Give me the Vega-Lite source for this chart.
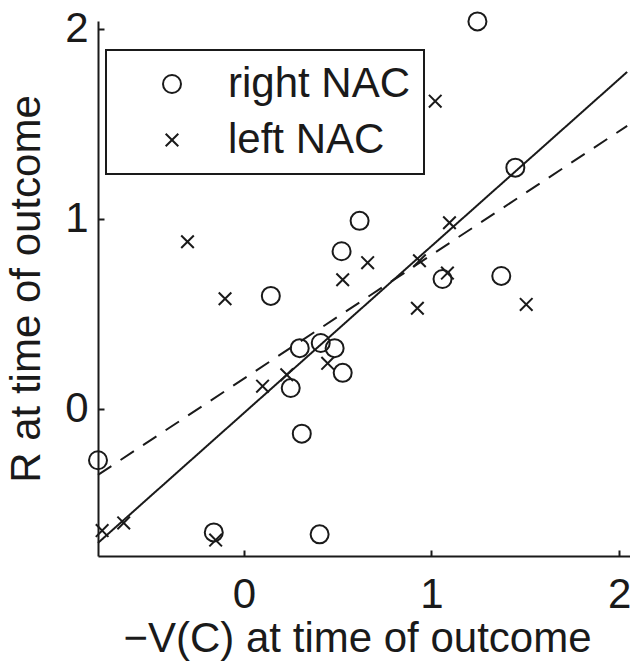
{
  "$schema": "https://vega.github.io/schema/vega-lite/v6.json",
  "width": 532,
  "height": 535,
  "autosize": {"type": "none"},
  "padding": {"left": 98, "top": 21, "right": 0, "bottom": 105},
  "background": "white",
  "config": {
    "view": {"stroke": null},
    "font": "Liberation Sans",
    "legend": {"strokeWidth": 2},
    "axis": {
      "domainColor": "#1a1a1a",
      "domainWidth": 2,
      "tickColor": "#1a1a1a",
      "tickWidth": 2,
      "tickSize": -6,
      "grid": false,
      "labelFont": "Liberation Sans",
      "labelFontSize": 42,
      "labelColor": "#1a1a1a",
      "titleFont": "Liberation Sans",
      "titleFontSize": 42,
      "titleFontWeight": "normal",
      "titleColor": "#1a1a1a"
    }
  },
  "datasets": {
    "points": [
      {"nac": "right NAC", "x": 1.245, "y": 2.04},
      {"nac": "right NAC", "x": 1.447, "y": 1.27},
      {"nac": "right NAC", "x": 0.617, "y": 0.99},
      {"nac": "right NAC", "x": 0.521, "y": 0.83},
      {"nac": "right NAC", "x": 0.144, "y": 0.595},
      {"nac": "right NAC", "x": 1.059, "y": 0.684},
      {"nac": "right NAC", "x": 1.372, "y": 0.70},
      {"nac": "right NAC", "x": 0.298, "y": 0.32},
      {"nac": "right NAC", "x": 0.41, "y": 0.347},
      {"nac": "right NAC", "x": 0.484, "y": 0.32},
      {"nac": "right NAC", "x": 0.527, "y": 0.19},
      {"nac": "right NAC", "x": 0.25, "y": 0.11},
      {"nac": "right NAC", "x": 0.309, "y": -0.13},
      {"nac": "right NAC", "x": -0.777, "y": -0.27},
      {"nac": "right NAC", "x": -0.16, "y": -0.65},
      {"nac": "right NAC", "x": 0.404, "y": -0.66},
      {"nac": "left NAC", "x": 1.02, "y": 1.62},
      {"nac": "left NAC", "x": 1.096, "y": 0.98},
      {"nac": "left NAC", "x": -0.30, "y": 0.88},
      {"nac": "left NAC", "x": -0.10, "y": 0.58},
      {"nac": "left NAC", "x": 0.66, "y": 0.77},
      {"nac": "left NAC", "x": 0.527, "y": 0.68},
      {"nac": "left NAC", "x": 0.936, "y": 0.78},
      {"nac": "left NAC", "x": 0.925, "y": 0.53},
      {"nac": "left NAC", "x": 1.085, "y": 0.715},
      {"nac": "left NAC", "x": 1.505, "y": 0.55},
      {"nac": "left NAC", "x": 0.447, "y": 0.24},
      {"nac": "left NAC", "x": 0.229, "y": 0.18},
      {"nac": "left NAC", "x": 0.10, "y": 0.12},
      {"nac": "left NAC", "x": -0.755, "y": -0.64},
      {"nac": "left NAC", "x": -0.64, "y": -0.60},
      {"nac": "left NAC", "x": -0.15, "y": -0.69}
    ],
    "fits": [
      {"fit": "solid", "x": -0.777, "y": -0.705},
      {"fit": "solid", "x": 2.043, "y": 1.774},
      {"fit": "dashed", "x": -0.777, "y": -0.347},
      {"fit": "dashed", "x": 2.043, "y": 1.49}
    ]
  },
  "encoding": {
    "x": {
      "field": "x",
      "type": "quantitative",
      "scale": {"domain": [-0.777, 2.058], "nice": false, "zero": false},
      "axis": {"values": [0, 1, 2], "title": "−V(C) at time of outcome", "labelPadding": 24, "titlePadding": 3, "titleX": 259}
    },
    "y": {
      "field": "y",
      "type": "quantitative",
      "scale": {"domain": [-0.774, 2.042], "nice": false, "zero": false},
      "axis": {"values": [0, 1, 2], "title": "R at time of outcome", "labelPadding": 16, "titlePadding": 16}
    }
  },
  "layer": [
    {
      "data": {"name": "fits"},
      "mark": {"type": "line", "color": "#1a1a1a", "strokeWidth": 2},
      "encoding": {
        "detail": {"field": "fit", "type": "nominal"},
        "strokeDash": {
          "field": "fit",
          "type": "nominal",
          "scale": {"domain": ["solid", "dashed"], "range": [[1, 0], [16, 11]]},
          "legend": null
        }
      }
    },
    {
      "data": {"name": "points"},
      "mark": {"type": "point", "filled": false, "strokeWidth": 2, "color": "#1a1a1a", "opacity": 1},
      "encoding": {
        "size": {"value": 324},
        "shape": {
          "field": "nac",
          "type": "nominal",
          "scale": {"domain": ["right NAC", "left NAC"], "range": ["circle", "M-0.7,-0.7L0.7,0.7M-0.7,0.7L0.7,-0.7"]},
          "legend": {
            "title": null,
            "orient": "none",
            "legendX": 8,
            "legendY": 29,
            "strokeColor": "#1a1a1a",
            "padding": 13,
            "rowPadding": 14,
            "symbolOffset": 32,
            "labelOffset": 35,
            "symbolSize": 324,
            "symbolStrokeWidth": 2,
            "symbolStrokeColor": "#1a1a1a",
            "labelFont": "Liberation Sans",
            "labelFontSize": 42,
            "labelColor": "#1a1a1a",
            "labelLimit": 400
          }
        }
      }
    }
  ]
}
